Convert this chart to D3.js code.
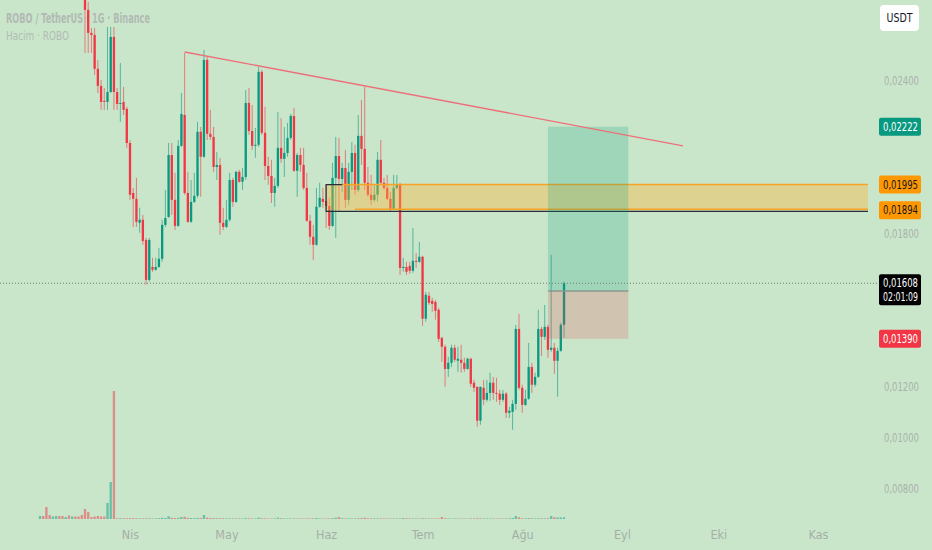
<!DOCTYPE html>
<html>
<head>
<meta charset="utf-8">
<script src="https://cdn.jsdelivr.net/npm/d3@7"></script>
<style>
  html, body { margin: 0; padding: 0; background: #c9e6ca; }
  svg { display: block; }
</style>
</head>
<body>
<div id="chart"></div>
<script>
// ------------------------------------------------------------
// ROBO / TetherUS daily candles (1G) - Binance
// ------------------------------------------------------------

// first candle date, one candle per day after that
var firstDay = new Date(Date.UTC(2025, 2, 4));

var opens = [
  0.03400,0.03560,0.03380,0.03100,0.03050,0.03150,0.03210,0.03120,0.03040,0.03090,0.02960,0.03000,0.02910,0.02860,
  0.02790,0.02680,0.02590,0.02582,0.02449,0.02382,0.02323,0.02319,0.02358,0.02574,
  0.02358,0.02311,0.02319,0.02292,0.02158,0.01962,0.01939,0.01845,0.01857,0.01778,
  0.01621,0.01672,0.01661,0.01672,0.01704,0.01837,0.01868,0.02111,0.01935,0.01833,
  0.02147,0.02268,0.01962,0.01849,0.01927,0.01951,0.02202,0.02104,0.02484,0.02194,
  0.02182,0.02064,0.02072,0.01845,0.01829,0.01857,0.02013,0.01927,0.02045,0.02006,
  0.02025,0.02315,0.02205,0.02147,0.02151,0.02437,0.02198,0.02068,0.02029,0.01962,
  0.01990,0.02139,0.02096,0.02119,0.02178,0.02264,0.02049,0.02111,0.02072,0.01982,
  0.01853,0.01790,0.01759,0.01908,0.01939,0.01931,0.01911,0.01833,0.02021,0.02107,
  0.02017,0.02060,0.01935,0.02045,0.02119,0.01974,0.02186,0.02135,0.02002,0.01955,
  0.01935,0.01955,0.02092,0.02002,0.01982,0.01939,0.01896,0.01982,0.01994,0.01668,
  0.01672,0.01676,0.01657,0.01696,0.01692,0.01712,0.01469,0.01559,0.01539,0.01535,
  0.01504,0.01394,0.01359,0.01272,0.01296,0.01355,0.01304,0.01308,0.01296,0.01272,
  0.01312,0.01218,0.01202,0.01069,0.01198,0.01151,0.01178,0.01218,0.01178,0.01175,
  0.01151,0.01175,0.01100,0.01104,0.01135,0.01429,0.01198,0.01131,0.01155,0.01280,
  0.01210,0.01241,0.01429,0.01398,0.01437,0.01347,0.01355,0.01304,0.01343,0.01445
];

var highs = [
  0.03650,0.03600,0.03420,0.03180,0.03200,0.03260,0.03250,0.03150,0.03130,0.03110,0.03050,0.03020,0.02940,0.02880,
  0.02817,0.02711,0.02609,0.02609,0.02484,0.02405,0.02374,0.02613,0.02613,0.02613,
  0.02374,0.02472,0.02378,0.02300,0.02170,0.01982,0.02021,0.01904,0.01876,0.01786,
  0.01786,0.01708,0.01708,0.01747,0.01857,0.01974,0.02158,0.02158,0.02041,0.02170,
  0.02354,0.02511,0.02045,0.02013,0.02041,0.02241,0.02221,0.02523,0.02496,0.02288,
  0.02221,0.02123,0.02100,0.01904,0.01935,0.02041,0.02021,0.02049,0.02053,0.02060,
  0.02366,0.02374,0.02307,0.02217,0.02456,0.02445,0.02300,0.02104,0.02092,0.02021,
  0.02280,0.02256,0.02221,0.02237,0.02272,0.02296,0.02119,0.02139,0.02139,0.02041,
  0.01876,0.01837,0.01982,0.02002,0.01982,0.01994,0.01943,0.02080,0.02182,0.02178,
  0.02080,0.02131,0.02080,0.02162,0.02151,0.02268,0.02327,0.02378,0.02064,0.02033,
  0.01994,0.02123,0.02170,0.02021,0.02033,0.01966,0.02033,0.02033,0.02002,0.01708,
  0.01692,0.01692,0.01825,0.01727,0.01770,0.01716,0.01574,0.01574,0.01551,0.01543,
  0.01512,0.01398,0.01367,0.01320,0.01367,0.01367,0.01359,0.01367,0.01316,0.01316,
  0.01316,0.01229,0.01202,0.01202,0.01229,0.01229,0.01257,0.01241,0.01237,0.01190,
  0.01190,0.01182,0.01124,0.01151,0.01445,0.01488,0.01210,0.01190,0.01374,0.01296,
  0.01257,0.01504,0.01437,0.01523,0.01445,0.01719,0.01374,0.01355,0.01453,0.01614
];

var lows = [
  0.03350,0.03300,0.03020,0.02990,0.03000,0.03100,0.03080,0.03000,0.03010,0.02920,0.02930,0.02880,0.02840,0.02760,
  0.02511,0.02511,0.02511,0.02425,0.02354,0.02288,0.02288,0.02288,0.02354,0.02288,
  0.02288,0.02241,0.02268,0.02139,0.01935,0.01829,0.01829,0.01806,0.01759,0.01602,
  0.01614,0.01653,0.01657,0.01668,0.01692,0.01829,0.01864,0.01876,0.01817,0.01829,
  0.02143,0.01955,0.01845,0.01845,0.01923,0.01943,0.01947,0.02100,0.02170,0.02170,
  0.02045,0.02013,0.01798,0.01817,0.01825,0.01849,0.01908,0.01923,0.02002,0.01974,
  0.02013,0.02190,0.02131,0.02100,0.02143,0.02190,0.02013,0.01994,0.01923,0.01908,
  0.01982,0.02080,0.02025,0.02104,0.02170,0.02045,0.01947,0.02045,0.01974,0.01849,
  0.01759,0.01700,0.01755,0.01904,0.01904,0.01825,0.01817,0.01829,0.01786,0.01888,
  0.01966,0.01904,0.01915,0.01974,0.01955,0.01966,0.02072,0.01974,0.01947,0.01915,
  0.01927,0.01927,0.01994,0.01974,0.01935,0.01888,0.01896,0.01974,0.01641,0.01653,
  0.01641,0.01645,0.01649,0.01668,0.01688,0.01441,0.01457,0.01523,0.01496,0.01465,
  0.01378,0.01300,0.01202,0.01241,0.01280,0.01300,0.01261,0.01257,0.01261,0.01269,
  0.01202,0.01182,0.01045,0.01053,0.01131,0.01143,0.01147,0.01151,0.01143,0.01131,
  0.01143,0.01080,0.01080,0.01033,0.01112,0.01190,0.01100,0.01127,0.01151,0.01178,
  0.01202,0.01237,0.01323,0.01386,0.01316,0.01339,0.01253,0.01163,0.01339,0.01394
];

var closes = [
  0.03560,0.03380,0.03100,0.03050,0.03150,0.03210,0.03120,0.03040,0.03090,0.02960,0.03000,0.02910,0.02860,0.02790,
  0.02680,0.02590,0.02582,0.02449,0.02382,0.02319,0.02319,0.02358,0.02574,0.02358,
  0.02311,0.02315,0.02288,0.02158,0.01955,0.01939,0.01849,0.01857,0.01774,0.01621,
  0.01778,0.01661,0.01672,0.01704,0.01837,0.01864,0.02111,0.01935,0.01833,0.02147,
  0.02272,0.01962,0.01849,0.01927,0.01951,0.02202,0.02104,0.02484,0.02194,0.02182,
  0.02064,0.02072,0.01845,0.01829,0.01857,0.02013,0.01927,0.02045,0.02006,0.02025,
  0.02315,0.02205,0.02147,0.02151,0.02437,0.02198,0.02068,0.02029,0.01962,0.01990,
  0.02139,0.02096,0.02119,0.02178,0.02264,0.02049,0.02111,0.02072,0.01982,0.01853,
  0.01790,0.01759,0.01908,0.01943,0.01927,0.01911,0.01833,0.02021,0.02107,0.02017,
  0.02060,0.01935,0.02045,0.02119,0.01974,0.02186,0.02135,0.02002,0.01955,0.01935,
  0.01955,0.02092,0.02002,0.01982,0.01939,0.01896,0.01982,0.01994,0.01668,0.01672,
  0.01653,0.01657,0.01696,0.01692,0.01712,0.01469,0.01563,0.01531,0.01527,0.01500,
  0.01390,0.01359,0.01272,0.01296,0.01355,0.01308,0.01312,0.01296,0.01272,0.01312,
  0.01214,0.01198,0.01069,0.01202,0.01151,0.01178,0.01218,0.01178,0.01175,0.01151,
  0.01175,0.01100,0.01108,0.01135,0.01429,0.01198,0.01131,0.01155,0.01280,0.01210,
  0.01241,0.01429,0.01398,0.01437,0.01347,0.01355,0.01304,0.01343,0.01445,0.01608
];

// volume (million ROBO)
var volumes = [
  3,3,12,4,2.5,3,3,3,2,3.5,2.5,2.5,2.5,4,
  10,7,2,2.5,3,2.5,2.5,16,37,128,
  0.8,0.8,0.7,0.8,0.8,0.8,0.7,0.6,0.7,0.6,
  0.7,0.5,0.6,0.8,1.3,1.0,2.7,1.2,1.0,1.2,
  2.0,2.2,1.2,1.0,0.9,1.1,1.0,4.0,1.5,1.0,
  0.9,0.8,0.8,0.7,0.6,0.5,0.6,0.5,0.6,0.5,
  0.9,0.7,0.6,0.5,1.3,0.8,0.6,0.5,0.5,0.6,
  1.3,0.8,0.6,0.5,0.5,0.6,0.5,0.5,0.5,0.6,
  0.5,0.6,1.0,0.6,0.5,0.5,0.6,0.8,1.3,2.0,
  0.8,0.7,0.6,0.6,0.6,0.8,0.9,1.3,0.8,0.7,
  0.6,0.6,0.7,0.6,0.5,0.5,0.6,0.5,0.5,1.0,
  0.7,0.6,0.6,0.5,0.5,0.8,0.6,0.5,0.5,0.5,
  0.6,2.0,0.8,0.6,0.5,0.5,0.5,0.5,0.5,0.5,
  0.6,0.6,0.8,0.7,0.6,0.5,0.5,0.5,0.5,0.5,
  0.5,0.6,0.6,1.0,3.0,1.7,0.8,0.6,1.0,0.7,
  0.6,0.8,0.7,0.6,0.8,3.0,1.8,1.5,1.6,1.7
];

// axis ticks
var monthLabels = ["Nis", "May", "Haz", "Tem", "Ağu", "Eyl", "Eki", "Kas"];
var priceTicks = [0.008, 0.010, 0.012, 0.014, 0.016, 0.018, 0.020, 0.022, 0.024];

// drawings on the chart
var trendStart = { date: new Date(Date.UTC(2025, 3, 18)), price: 0.02515 };
var trendEnd   = { date: new Date(Date.UTC(2025, 8, 20)), price: 0.02147 };

var zoneStart = new Date(Date.UTC(2025, 5, 1));
var zoneTop = 0.01995;
var zoneBottom = 0.01894;

var posStart = new Date(Date.UTC(2025, 7, 9));
var posEnd   = new Date(Date.UTC(2025, 8, 3));
var posTarget = 0.02222;
var posEntry  = 0.01578;
var posStop   = 0.01390;

var lastPrice = 0.01608;
var countdown = "02:01:09";

// right side price labels
var priceLabels = [
  { price: 0.02222, bg: "#089981", fg: "#ffffff" },
  { price: 0.01995, bg: "#ff9800", fg: "#131722" },
  { price: 0.01894, bg: "#ff9800", fg: "#131722" },
  { price: 0.01608, bg: "#000000", fg: "#ffffff", sub: countdown },
  { price: 0.01390, bg: "#f23645", fg: "#ffffff" }
];

// ------------------------------------------------------------
var width = 932, height = 550;
var plotRight = 868;
var upColor = "#089981", downColor = "#f23645";
var textFont = "'Liberation Sans Narrow', 'DejaVu Sans Condensed', 'Liberation Sans', sans-serif";
var labelLen = 35;

var candles = opens.map(function (o, i) {
  return {
    date: d3.utcDay.offset(firstDay, i),
    o: o, h: highs[i], l: lows[i], c: closes[i], v: volumes[i]
  };
});

var svg = d3.select("#chart")
  .append("svg")
  .attr("width", width)
  .attr("height", height)
  .style("font-family", textFont);

svg.append("rect")
  .attr("width", width)
  .attr("height", height)
  .attr("fill", "#c9e6ca");

// scales
var x = d3.scaleUtc()
  .domain([new Date(Date.UTC(2025, 3, 1)), new Date(Date.UTC(2025, 10, 1))])
  .range([130, 818]);

var y = d3.scaleLinear()
  .domain([0.008, 0.024])
  .range([489.3, 81.3]);

var yVol = d3.scaleLinear()
  .domain([0, 128])
  .range([519, 391]);

var dayW = x(d3.utcDay.offset(firstDay, 1)) - x(firstDay);
var bodyW = dayW * 0.72;

var locale = d3.formatLocale({ decimal: ",", thousands: ".", grouping: [3], currency: ["", ""] });
var fmt = locale.format(".5f");

// clip for the main pane
svg.append("clipPath").attr("id", "pane")
  .append("rect").attr("x", 0).attr("y", 0).attr("width", plotRight).attr("height", 525);

// header / legend
svg.append("text")
  .attr("x", 6).attr("y", 23)
  .attr("textLength", 144).attr("lengthAdjust", "spacingAndGlyphs")
  .style("font-size", "14px").style("font-weight", 600)
  .style("fill", "#b2bab4")
  .text("ROBO / TetherUS · 1G · Binance");

svg.append("text")
  .attr("x", 6).attr("y", 40)
  .attr("textLength", 63).attr("lengthAdjust", "spacingAndGlyphs")
  .style("font-size", "13px")
  .style("fill", "#b2bab4")
  .text("Hacim · ROBO");

var pane = svg.append("g").attr("clip-path", "url(#pane)");

// volume bars
pane.selectAll(".vol")
  .data(candles)
  .enter()
  .append("rect")
  .attr("class", "vol")
  .attr("x", function (d) { return x(d.date) - bodyW / 2; })
  .attr("y", function (d) { return yVol(d.v); })
  .attr("width", bodyW)
  .attr("height", function (d) { return yVol(0) - yVol(d.v); })
  .attr("fill", function (d) { return d.c >= d.o ? upColor : downColor; })
  .attr("opacity", 0.5);

// wicks
pane.selectAll(".wick")
  .data(candles)
  .enter()
  .append("line")
  .attr("class", "wick")
  .attr("x1", function (d) { return x(d.date); })
  .attr("x2", function (d) { return x(d.date); })
  .attr("y1", function (d) { return y(d.h); })
  .attr("y2", function (d) { return y(d.l); })
  .attr("stroke", function (d) { return d.c >= d.o ? upColor : downColor; })
  .attr("stroke-width", 1)
  .attr("opacity", 0.6);

// bodies
pane.selectAll(".body")
  .data(candles)
  .enter()
  .append("rect")
  .attr("class", "body")
  .attr("x", function (d) { return x(d.date) - bodyW / 2; })
  .attr("y", function (d) { return y(Math.max(d.o, d.c)); })
  .attr("width", bodyW)
  .attr("height", function (d) { return Math.max(1, Math.abs(y(d.o) - y(d.c))); })
  .attr("fill", function (d) { return d.c >= d.o ? upColor : downColor; });

// yellow zone
var zx0 = x(zoneStart);
pane.append("rect")
  .attr("x", zx0)
  .attr("y", y(zoneTop))
  .attr("width", plotRight - zx0)
  .attr("height", y(zoneBottom) - y(zoneTop))
  .attr("fill", "rgba(255,180,60,0.4)");

pane.append("line")
  .attr("x1", x(d3.utcDay.offset(zoneStart, 5))).attr("x2", plotRight)
  .attr("y1", y(zoneTop)).attr("y2", y(zoneTop))
  .attr("stroke", "#f7a325").attr("stroke-width", 1.5);

pane.append("line")
  .attr("x1", x(d3.utcDay.offset(zoneStart, 9))).attr("x2", plotRight)
  .attr("y1", y(zoneBottom) - 1).attr("y2", y(zoneBottom) - 1)
  .attr("stroke", "#f7a325").attr("stroke-width", 1.5);

pane.append("path")
  .attr("d", "M" + x(d3.utcDay.offset(zoneStart, 5)) + "," + y(zoneTop) +
    "H" + zx0 + "V" + (y(zoneBottom) + 1) + "H" + plotRight)
  .attr("fill", "none")
  .attr("stroke", "#2a2e39").attr("stroke-width", 1.2);

// long position box
var px0 = x(posStart), px1 = x(posEnd);
pane.append("rect")
  .attr("x", px0).attr("y", y(posTarget))
  .attr("width", px1 - px0).attr("height", y(posEntry) - y(posTarget))
  .attr("fill", "rgba(8,153,129,0.22)");

pane.append("rect")
  .attr("x", px0).attr("y", y(posEntry))
  .attr("width", px1 - px0).attr("height", y(posStop) - y(posEntry))
  .attr("fill", "rgba(242,54,69,0.2)");

pane.append("line")
  .attr("x1", px0).attr("x2", px1)
  .attr("y1", y(posEntry)).attr("y2", y(posEntry))
  .attr("stroke", "#8a9a90").attr("stroke-width", 1.5);

// trend line
pane.append("line")
  .attr("x1", x(trendStart.date)).attr("y1", y(trendStart.price))
  .attr("x2", x(trendEnd.date)).attr("y2", y(trendEnd.price))
  .attr("stroke", "#ee6f7a").attr("stroke-width", 1.4);

// last price dotted line
svg.append("line")
  .attr("x1", 0).attr("x2", 879)
  .attr("y1", y(lastPrice)).attr("y2", y(lastPrice))
  .attr("stroke", "#6f7d72").attr("stroke-width", 1)
  .attr("stroke-dasharray", "1,2");

// price axis labels (hidden where a coloured label sits)
var shownTicks = priceTicks.filter(function (t) {
  return priceLabels.every(function (l) { return Math.abs(y(t) - y(l.price)) > 19; });
});

svg.append("g")
  .selectAll("text")
  .data(shownTicks)
  .enter()
  .append("text")
  .attr("x", 884)
  .attr("y", function (d) { return y(d); })
  .attr("dy", "0.35em")
  .attr("textLength", labelLen).attr("lengthAdjust", "spacingAndGlyphs")
  .style("font-size", "11.5px")
  .style("fill", "#a9b2ab")
  .text(function (d) { return fmt(d); });

// coloured price labels
var pl = svg.append("g")
  .selectAll("g")
  .data(priceLabels)
  .enter()
  .append("g")
  .attr("transform", function (d) { return "translate(879," + y(d.price) + ")"; });

pl.append("rect")
  .attr("x", 0)
  .attr("y", -9)
  .attr("width", 42)
  .attr("height", function (d) { return d.sub ? 31 : 18; })
  .attr("rx", 2)
  .attr("fill", function (d) { return d.bg; });

pl.append("text")
  .attr("x", 4)
  .attr("dy", "0.35em")
  .attr("textLength", labelLen).attr("lengthAdjust", "spacingAndGlyphs")
  .style("font-size", "11.5px")
  .style("font-weight", 500)
  .style("fill", function (d) { return d.fg; })
  .text(function (d) { return fmt(d.price); });

pl.filter(function (d) { return d.sub; })
  .append("text")
  .attr("x", 4)
  .attr("y", 14)
  .attr("dy", "0.35em")
  .attr("textLength", labelLen).attr("lengthAdjust", "spacingAndGlyphs")
  .style("font-size", "11.5px")
  .style("fill", "#ffffff")
  .text(function (d) { return d.sub; });

// month axis
var xAxis = d3.axisBottom(x)
  .tickValues(d3.utcMonth.range(new Date(Date.UTC(2025, 3, 1)), new Date(Date.UTC(2025, 10, 2))))
  .tickFormat(function (d, i) { return monthLabels[i]; })
  .tickSize(0);

var gx = svg.append("g")
  .attr("transform", "translate(0,527)")
  .call(xAxis);
gx.select(".domain").remove();
gx.selectAll("text")
  .style("font-family", textFont)
  .style("font-size", "12.5px")
  .style("fill", "#a6aea8");

// currency box
svg.append("rect")
  .attr("x", 880).attr("y", 5)
  .attr("width", 39).attr("height", 26)
  .attr("rx", 4)
  .attr("fill", "#ffffff");

svg.append("text")
  .attr("x", 899.5).attr("y", 18)
  .attr("dy", "0.35em")
  .attr("text-anchor", "middle")
  .attr("textLength", 26).attr("lengthAdjust", "spacingAndGlyphs")
  .style("font-size", "11.5px")
  .style("fill", "#131722")
  .text("USDT");
</script>
</body>
</html>
